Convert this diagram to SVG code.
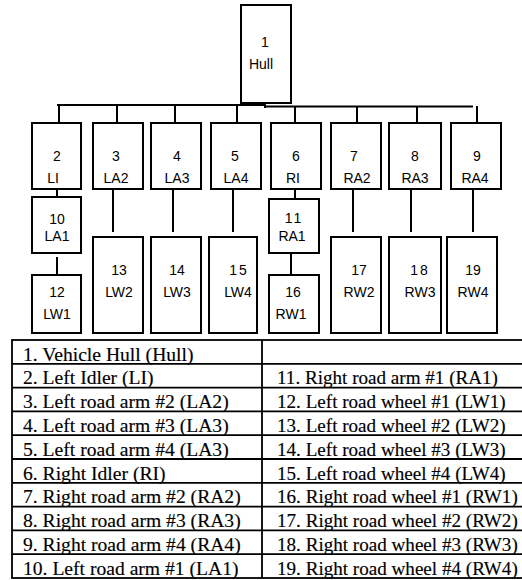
<svg xmlns="http://www.w3.org/2000/svg" width="522" height="580" viewBox="0 0 522 580">
<style>
.box{fill:#fff;stroke:#000;stroke-width:2}
.ln{stroke:#000;stroke-width:2;fill:none}
.t{font-family:"Liberation Sans",Arial,sans-serif;font-size:14px;text-anchor:middle;fill:#000}
.sp{letter-spacing:2px}
.tb{font-family:"Liberation Serif","Times New Roman",serif;font-size:19.6px;fill:#000;stroke:#000;stroke-width:0.15}
.tr{font-size:19.1px}
.tl{stroke:#000;stroke-width:1.8;fill:none}
</style>
<rect width="522" height="580" fill="#fff"/>
<g id="connectors">
<path class="ln" d="M57,105 H265 M265,106.5 H473 M265,103 V108"/>
<path class="ln" d="M59,105 V123 M117,105 V123 M175,105 V123 M237,105 V123 M295,106 V123 M357,106 V123 M417,106 V123 M477,106 V123"/>
<path class="ln" d="M57,189 V197 M57,257 V275 M113,189 V232 M173,189 V232 M233,189 V232 M295,189 V199 M291,253 V275 M353,189 V232 M411,189 V232 M473,189 V232"/>
</g>
<g id="n1"><rect class="box" x="241" y="5" width="50" height="98"/><text class="t" x="265" y="47">1</text><text class="t" x="261" y="69">Hull</text></g>
<g id="n2"><rect class="box" x="32" y="123" width="49" height="66"/><text class="t" x="57" y="161">2</text><text class="t" x="53" y="183">LI</text></g>
<g id="n3"><rect class="box" x="93" y="123" width="50" height="66"/><text class="t" x="116" y="161">3</text><text class="t" x="116" y="183">LA2</text></g>
<g id="n4"><rect class="box" x="151" y="123" width="50" height="66"/><text class="t" x="177" y="161">4</text><text class="t" x="177" y="183">LA3</text></g>
<g id="n5"><rect class="box" x="211" y="123" width="50" height="66"/><text class="t" x="235" y="161">5</text><text class="t" x="236" y="183">LA4</text></g>
<g id="n6"><rect class="box" x="271" y="123" width="50" height="66"/><text class="t" x="296" y="161">6</text><text class="t" x="293" y="183">RI</text></g>
<g id="n7"><rect class="box" x="331" y="123" width="50" height="66"/><text class="t" x="354" y="161">7</text><text class="t" x="357" y="183">RA2</text></g>
<g id="n8"><rect class="box" x="389" y="123" width="52" height="66"/><text class="t" x="415" y="161">8</text><text class="t" x="415" y="183">RA3</text></g>
<g id="n9"><rect class="box" x="451" y="123" width="50" height="66"/><text class="t" x="477" y="161">9</text><text class="t" x="475" y="183">RA4</text></g>
<g id="n10"><rect class="box" x="32" y="197" width="49" height="56"/><text class="t" x="57" y="224">10</text><text class="t" x="57" y="241">LA1</text></g>
<g id="n11"><rect class="box" x="269" y="199" width="50" height="54"/><text class="t sp" x="294" y="223">11</text><text class="t" x="292" y="241">RA1</text></g>
<g id="n12"><rect class="box" x="32" y="275" width="49" height="58"/><text class="t" x="57" y="297">12</text><text class="t" x="57" y="319">LW1</text></g>
<g id="n13"><rect class="box" x="93" y="237" width="50" height="96"/><text class="t" x="119" y="275">13</text><text class="t" x="119" y="297">LW2</text></g>
<g id="n14"><rect class="box" x="151" y="237" width="50" height="96"/><text class="t" x="177" y="275">14</text><text class="t" x="177" y="297">LW3</text></g>
<g id="n15"><rect class="box" x="209" y="237" width="48" height="96"/><text class="t sp" x="239" y="275">15</text><text class="t" x="238" y="297">LW4</text></g>
<g id="n16"><rect class="box" x="269" y="275" width="50" height="58"/><text class="t" x="293" y="297">16</text><text class="t" x="291" y="319">RW1</text></g>
<g id="n17"><rect class="box" x="331" y="237" width="50" height="96"/><text class="t" x="359" y="275">17</text><text class="t" x="359" y="297">RW2</text></g>
<g id="n18"><rect class="box" x="389" y="237" width="52" height="96"/><text class="t sp" x="420" y="275">18</text><text class="t" x="420" y="297">RW3</text></g>
<g id="n19"><rect class="box" x="447" y="237" width="50" height="96"/><text class="t" x="473" y="275">19</text><text class="t" x="473" y="297">RW4</text></g>
<g id="table">
<rect class="tl" x="12" y="340" width="514" height="238"/>
<path class="tl" d="M262,340 V578 M12,363.8 H526 M12,387.6 H526 M12,411.4 H526 M12,435.2 H526 M12,459 H526 M12,482.8 H526 M12,506.6 H526 M12,530.4 H526 M12,554.2 H526"/>
<text class="tb" x="23" y="360.5">1. Vehicle Hull (Hull)</text>
<text class="tb" x="23" y="384.3">2. Left Idler (LI)</text>
<text class="tb" x="23" y="408.1">3. Left road arm #2 (LA2)</text>
<text class="tb" x="23" y="431.9">4. Left road arm #3 (LA3)</text>
<text class="tb" x="23" y="455.7">5. Left road arm #4 (LA3)</text>
<text class="tb" x="23" y="479.5">6. Right Idler (RI)</text>
<text class="tb" x="23" y="503.3">7. Right road arm #2 (RA2)</text>
<text class="tb" x="23" y="527.1">8. Right road arm #3 (RA3)</text>
<text class="tb" x="23" y="550.9">9. Right road arm #4 (RA4)</text>
<text class="tb" x="23" y="574.7">10. Left road arm #1 (LA1)</text>
<text class="tb tr" x="277" y="384.3">11. Right road arm #1 (RA1)</text>
<text class="tb tr" x="277" y="408.1">12. Left road wheel #1 (LW1)</text>
<text class="tb tr" x="277" y="431.9">13. Left road wheel #2 (LW2)</text>
<text class="tb tr" x="277" y="455.7">14. Left road wheel #3 (LW3)</text>
<text class="tb tr" x="277" y="479.5">15. Left road wheel #4 (LW4)</text>
<text class="tb tr" x="277" y="503.3">16. Right road wheel #1 (RW1)</text>
<text class="tb tr" x="277" y="527.1">17. Right road wheel #2 (RW2)</text>
<text class="tb tr" x="277" y="550.9">18. Right road wheel #3 (RW3)</text>
<text class="tb tr" x="277" y="574.7">19. Right road wheel #4 (RW4)</text>
</g>
</svg>
